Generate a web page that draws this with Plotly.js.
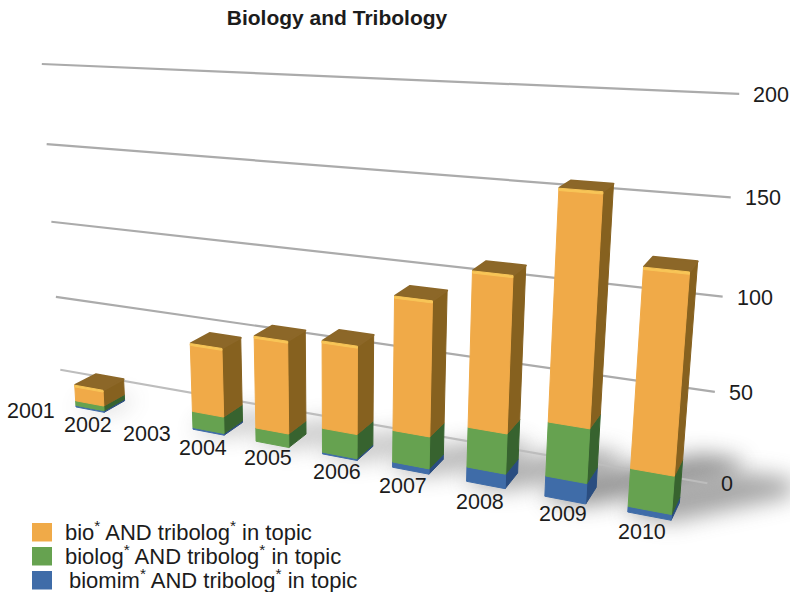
<!DOCTYPE html>
<html>
<head>
<meta charset="utf-8">
<script src="https://cdn.plot.ly/plotly-3.0.1.min.js"></script>
<style>
html,body{margin:0;padding:0;background:#fff}
#chart{width:790px;height:592px}
#chart .scatterlayer path.js-line{stroke-linejoin:round}
</style>
</head>
<body>
<div id="chart"></div>
<script>
// Publications per year, by search term
const years   = [2001, 2002, 2003, 2004, 2005, 2006, 2007, 2008, 2009, 2010];
const biomim  = [0, 1, 0, 1, 0, 1, 3, 8, 11, 3];
const biolog  = [0, 3, 0, 10, 8, 14, 18, 22, 29, 20];
const bio     = [0, 10, 0, 41, 54, 50, 74, 83, 118, 101];
const valueTicks = [0, 50, 100, 150, 200];
const seriesNames = ['biomim* AND tribolog* in topic', 'biolog* AND tribolog* in topic', 'bio* AND tribolog* in topic'];

// Face colours, bottom segment to top segment
const frontColors = ['#3F6CA8', '#66A250', '#F0AA48'];
const sideColors  = ['#2A4D80', '#37632F', '#86611F'];
const topColor = '#8C6728';
const highlightColor = '#F8C557';

// Where the year labels sit on the page
const yearLabelX = [31, 88, 147, 203, 268, 337, 403, 480, 563, 642];
const yearLabelY = [411, 425, 434, 448, 458, 472, 486, 502, 514, 532];

// Perspective camera: i = year slot, d = depth, v = value
function project(i, d, v) {
  const w = 1 - 0.0235 * i + 0.024 * d - 0.00033 * v;
  return [(21.6 + 52.6 * i + 22.7 * d - 0.112 * v) / w,
          (396.6 + 0.79 * i - 1.54 * d - 1.645 * v) / w];
}

const traces = [];
function polygon(corners, color, opacity, name, edge) {
  const pts = corners.map(c => project(c[0], c[1], c[2]));
  traces.push({
    type: 'scatter', mode: 'lines', hoverinfo: 'skip', showlegend: false, name: name || '',
    x: pts.map(p => p[0]).concat(pts[0][0]),
    y: pts.map(p => p[1]).concat(pts[0][1]),
    fill: 'toself', fillcolor: color, opacity: opacity === undefined ? 1 : opacity,
    line: {width: edge === undefined ? 1 : edge, color: color}
  });
}

const barWidth = 0.5, barDepth = 1, wallDepth = 2.38, wallStart = -0.22, wallEnd = 9.71;

// Soft floor shadows, thrown back and to the right of each bar
const totals = years.map((_, k) => biomim[k] + biolog[k] + bio[k]);
totals.forEach((t, k) => {
  if (!t) return;
  const di = 0.0095 * t, dd = 0.02 * t, l = k, r = k + barWidth;
  polygon([[l, -0.1, 0], [r, -0.1, 0], [r + di, dd, 0], [r + di, barDepth + dd, 0],
           [l + di, barDepth + dd, 0], [l, barDepth, 0]],
          '#555555', 0.16 + 0.003 * t, 'shadow', 0);
});
const shadowCount = traces.length;

// Gridlines on the back wall
valueTicks.forEach(v => {
  const a = project(wallStart, wallDepth, v), b = project(wallEnd, wallDepth, v);
  traces.push({type: 'scatter', mode: 'lines', hoverinfo: 'skip', showlegend: false,
    x: [a[0], b[0]], y: [a[1], b[1]],
    line: {color: v === 0 ? '#BDBDBD' : '#ABABAB', width: 2.2}});
});

// Stacked bars: right side, front, then the lid
years.forEach((_, k) => {
  if (!totals[k]) return;
  const l = k, r = k + barWidth;
  let base = 0;
  [biomim[k], biolog[k], bio[k]].forEach((h, s) => {
    if (!h) return;
    const top = base + h;
    polygon([[r, 0, base], [r, barDepth, base], [r, barDepth, top], [r, 0, top]], sideColors[s]);
    polygon([[l, 0, base], [r, 0, base], [r, 0, top], [l, 0, top]], frontColors[s], 1, seriesNames[s]);
    base = top;
  });
  polygon([[l, 0, base], [r, 0, base], [r, barDepth, base], [l, barDepth, base]], topColor, 1, '', 2);
  polygon([[l, 0, base - 1.1], [r, 0, base - 1.1], [r, 0, base], [l, 0, base]], highlightColor);
});

const textFont = {family: '"Liberation Sans", Arial, sans-serif', size: 21.5, color: '#1c1c1c'};
const legendFont = {family: '"Liberation Sans", Arial, sans-serif', size: 22, color: '#1c1c1c'};
const annotations = [];
years.forEach((y, k) => annotations.push({
  x: yearLabelX[k], y: yearLabelY[k], xref: 'x', yref: 'y', text: String(y),
  showarrow: false, xanchor: 'center', yanchor: 'middle', font: textFont}));
valueTicks.forEach(v => {
  const end = project(wallEnd, wallDepth, v);
  annotations.push({x: end[0] + 12, y: end[1] + 1, xref: 'x', yref: 'y', text: String(v),
    showarrow: false, xanchor: 'left', yanchor: 'middle', font: textFont});
});

// Legend: swatch and label per term, listed top down
const legendRows = [
  {text: 'bio<sup>*</sup> AND tribolog<sup>*</sup> in topic', color: frontColors[2], top: 523, textX: 63},
  {text: 'biolog<sup>*</sup> AND tribolog<sup>*</sup> in topic', color: frontColors[1], top: 547, textX: 63},
  {text: 'biomim<sup>*</sup> AND tribolog<sup>*</sup> in topic', color: frontColors[0], top: 571, textX: 67}
];
const shapes = legendRows.map(row => ({
  type: 'rect', xref: 'x', yref: 'y', x0: 32, x1: 52, y0: row.top, y1: row.top + 18.5,
  fillcolor: row.color, line: {width: 0}, layer: 'above'}));
legendRows.forEach(row => annotations.push({
  x: row.textX, y: row.top + 8.2, xref: 'x', yref: 'y', text: row.text,
  showarrow: false, xanchor: 'left', yanchor: 'middle', font: legendFont}));

const layout = {
  width: 790, height: 592,
  margin: {l: 0, r: 0, t: 0, b: 0},
  paper_bgcolor: '#fff', plot_bgcolor: '#fff',
  showlegend: false,
  title: {text: '<b>Biology and Tribology</b>', x: 337 / 790, xanchor: 'center',
          y: 1 - 18 / 592, yanchor: 'middle',
          font: {family: '"Liberation Sans", Arial, sans-serif', size: 21, color: '#1c1c1c'}},
  xaxis: {range: [0, 790], visible: false, fixedrange: true},
  yaxis: {range: [592, 0], visible: false, fixedrange: true},
  annotations: annotations, shapes: shapes
};

Plotly.newPlot('chart', traces, layout, {displayModeBar: false, staticPlot: true}).then(() => {
  // Feather the floor shadows
  document.querySelectorAll('#chart .scatterlayer .trace').forEach((g, n) => {
    if (n < shadowCount) g.style.filter = 'blur(11px)';
  });
});
</script>
</body>
</html>
